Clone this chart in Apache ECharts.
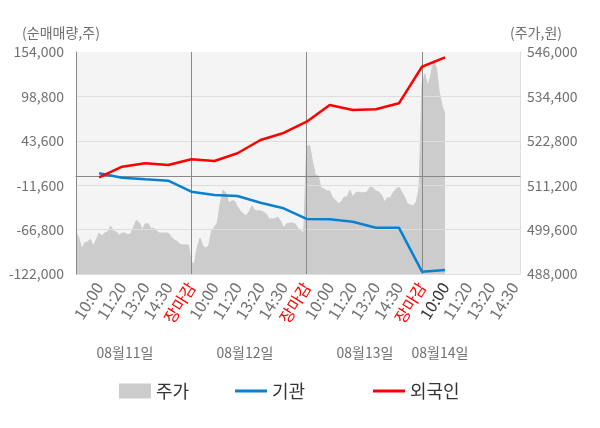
<!DOCTYPE html>
<html>
<head>
<meta charset="utf-8">
<script src="https://cdn.jsdelivr.net/npm/echarts@6/dist/echarts.min.js"></script>
<style>
  html, body { margin: 0; padding: 0; background: #fff; }
  #chart { width: 600px; height: 428px; }
</style>
</head>
<body>
<div id="chart"></div>
<script>
// report times shown on the axis, repeated each trading day
const hours = ['10:00', '11:20', '13:20', '14:30', '장마감'];
const days = ['08월11일', '08월12일', '08월13일', '08월14일'];
const STEP = 8;            // categories between two report times
const PER_DAY = STEP * 5;  // categories per trading day
const LAST = 154;          // last category (14:30 of the last day + a bit)

// price (right axis), one value per category from the first day open
const price = [
    499000, 497400, 494500, 496100, 496400, 497100, 495300, 496900,
    498700, 497900, 498700, 499000, 500500, 499200, 499000, 498200,
    498700, 498700, 498200, 498500, 500300, 502100, 501300, 499500,
    501100, 501100, 499800, 500000, 499200, 498700, 498700, 498700,
    498700, 497700, 496900, 496600, 495800, 495600, 495600, 495600,
    491100, 490600, 494800, 497400, 495300, 494800, 495300, 499200,
    500300, 501300, 506300, 509900, 509200, 506500, 507100, 507100,
    505500, 504500, 503700, 503200, 504200, 505800, 504700, 504500,
    504500, 504200, 503700, 502400, 502400, 502400, 502900, 501800,
    500000, 501100, 501300, 501300, 501100, 500000, 499200, 498700,
    521200, 521700, 517500, 513900, 513600, 510500, 510200, 509700,
    509700, 507900, 507300, 506300, 506800, 508100, 508100, 509900,
    508100, 509200, 509400, 509200, 509200, 509400, 510700, 510500,
    509700, 509400, 508600, 506800, 507900, 507900, 509200, 510200,
    510700, 509400, 508100, 506300, 506000, 505800, 506800, 510500,
    537400, 540300, 537100, 539700, 543900, 541800, 535500, 531900,
    529800
];

// net buying (left axis) at each report time, from 08/11 10:00
const institution = [
    3200, -2300, -4300, -6000, -19700,
    -23800, -25000, -33400, -40300, -53600,
    -54000, -57000, -64400, -64400, -119100,
    -117000
];
const foreign = [
    -1800, 11400, 15600, 13500, 20600,
    18500, 28100, 44600, 53300, 67300,
    88100, 81900, 82800, 90200, 135700,
    147400
];

const categories = [];
for (let i = 0; i <= LAST; i++) {
    let label = '';
    if (i > 0 && i % STEP === 0) label = hours[(i / STEP - 1) % hours.length];
    categories.push(i + '|' + label);
}
const atReport = arr => arr.map((v, j) => [STEP * (j + 1), v]);
const nowIndex = STEP * institution.length;

const fmt = v => v.toLocaleString('en-US');
const FONT = '"Noto Sans CJK KR", "Noto Sans", sans-serif';

let chart = echarts.init(document.getElementById('chart'));
chart.setOption({
    animation: false,
    textStyle: { fontFamily: FONT },
    grid: {
        left: 76, right: 80, top: 52, bottom: 154,
        show: true, backgroundColor: '#f4f4f4', borderWidth: 0
    },
    xAxis: {
        type: 'category',
        data: categories,
        boundaryGap: false,
        z: 3,
        axisLine: { lineStyle: { color: '#888', width: 1 } },
        axisTick: {
            show: true, length: 5,
            interval: idx => idx % PER_DAY === 0,
            lineStyle: { color: '#888' }
        },
        splitLine: {
            show: true,
            interval: idx => idx > 0 && idx % PER_DAY === 0,
            lineStyle: { color: '#888', width: 1 }
        },
        axisLabel: {
            interval: (idx, val) => val.split('|')[1] !== '',
            formatter: val => val.split('|')[1],
            rotate: 58,
            margin: 10,
            fontSize: 16,
            fontFamily: FONT,
            color: (val, idx) => {
                let parts = val.split('|');
                if (parts[1] === '장마감') return '#ff0000';
                if (+parts[0] === nowIndex) return '#333';
                return '#707070';
            }
        }
    },
    yAxis: [
        {
            type: 'value',
            min: -122000, max: 154000, interval: 55200,
            z: 3,
            axisLine: { show: true, lineStyle: { color: '#888' } },
            axisTick: { show: false },
            splitLine: {
                show: true,
                lineStyle: { color: ['#ddd', '#ddd', '#ddd', '#ddd', '#ddd', 'rgba(0,0,0,0)'] }
            },
            axisLabel: { formatter: fmt, margin: 12, fontSize: 14, color: '#707070', fontFamily: FONT }
        },
        {
            type: 'value',
            min: 488000, max: 546000, interval: 11600,
            z: 3,
            axisLine: { show: true, lineStyle: { color: '#ddd' } },
            axisTick: { show: false },
            splitLine: { show: false },
            axisLabel: { formatter: fmt, margin: 7, fontSize: 14, color: '#707070', fontFamily: FONT }
        }
    ],
    legend: [
        {
            data: [{ name: '주가', icon: 'rect' }],
            left: 114, top: 377, itemWidth: 32, itemHeight: 15,
            textStyle: { fontSize: 18, color: '#333', fontFamily: FONT }
        },
        {
            data: [{ name: '기관', icon: 'rect' }],
            left: 230, top: 377, itemWidth: 32, itemHeight: 3,
            textStyle: { fontSize: 18, color: '#333', fontFamily: FONT }
        },
        {
            data: [{ name: '외국인', icon: 'rect' }],
            left: 368, top: 377, itemWidth: 32, itemHeight: 3,
            textStyle: { fontSize: 18, color: '#333', fontFamily: FONT }
        }
    ],
    graphic: [
        { type: 'text', style: { text: '(순매매량,주)', x: 61, y: 33, align: 'center', verticalAlign: 'middle', fill: '#707070', font: '14px ' + FONT } },
        { type: 'text', style: { text: '(주가,원)', x: 536, y: 33, align: 'center', verticalAlign: 'middle', fill: '#707070', font: '14px ' + FONT } },
        { type: 'text', style: { text: days[0], x: 125, y: 353, align: 'center', verticalAlign: 'middle', fill: '#707070', font: '14px ' + FONT } },
        { type: 'text', style: { text: days[1], x: 245, y: 353, align: 'center', verticalAlign: 'middle', fill: '#707070', font: '14px ' + FONT } },
        { type: 'text', style: { text: days[2], x: 365, y: 353, align: 'center', verticalAlign: 'middle', fill: '#707070', font: '14px ' + FONT } },
        { type: 'text', style: { text: days[3], x: 440, y: 353, align: 'center', verticalAlign: 'middle', fill: '#707070', font: '14px ' + FONT } }
    ],
    series: [
        {
            name: '주가',
            type: 'line',
            yAxisIndex: 1,
            data: price,
            symbol: 'none',
            z: 2,
            itemStyle: { color: '#cccccc' },
            lineStyle: { color: '#cccccc', width: 1 },
            areaStyle: { color: '#cccccc', opacity: 1 }
        },
        {
            name: '기관',
            type: 'line',
            yAxisIndex: 0,
            data: atReport(institution),
            symbol: 'none',
            z: 5,
            itemStyle: { color: '#0a80d0' },
            lineStyle: { color: '#0a80d0', width: 2.5 },
            markLine: {
                silent: true,
                symbol: 'none',
                label: { show: false },
                lineStyle: { color: '#888', width: 1, type: 'solid' },
                data: [{ yAxis: 0 }]
            }
        },
        {
            name: '외국인',
            type: 'line',
            yAxisIndex: 0,
            data: atReport(foreign),
            symbol: 'none',
            z: 6,
            itemStyle: { color: '#ff0000' },
            lineStyle: { color: '#ff0000', width: 2.5 }
        }
    ]
});
</script>
</body>
</html>
